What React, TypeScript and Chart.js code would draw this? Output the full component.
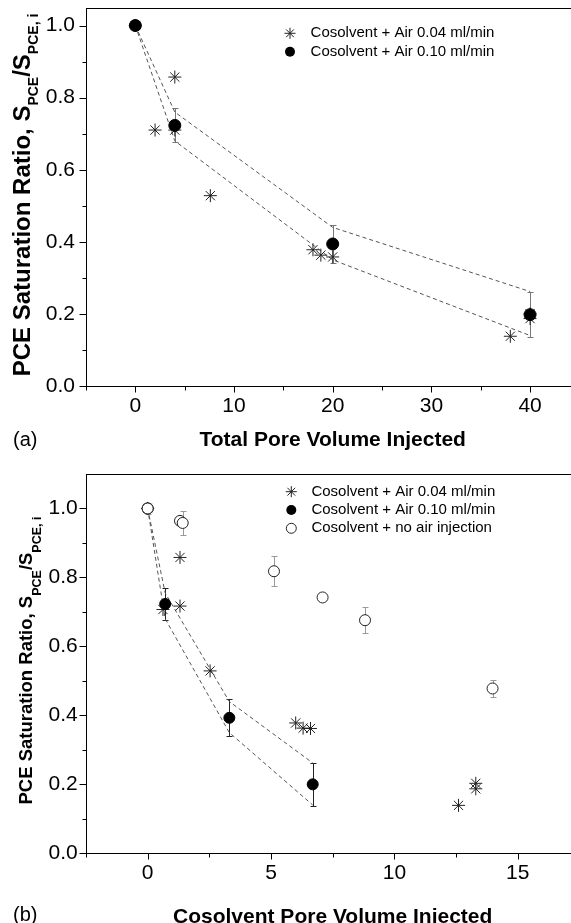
import React, { useEffect, useRef } from "react";
import { Chart, registerables } from "chart.js";
Chart.register(...registerables);

const FONT = "'Liberation Sans', Arial, Helvetica, sans-serif";

// ---------- Panel (a) data ----------
const starsAX = [0, 2, 4, 4, 7.6, 18, 18.8, 20, 38, 40, 40];
const starsAY = [1.0, 0.71, 0.857, 0.71, 0.528, 0.378, 0.363, 0.358, 0.138, 0.187, 0.2];
const filledAX = [0, 4, 20, 40];
const filledAY = [1.0, 0.723, 0.394, 0.198];
const filledAErr = [0, 0.047, 0.053, 0.063];
const upperAY = [1.0, 0.76, 0.44, 0.262];
const lowerAY = [1.0, 0.68, 0.35, 0.14];
const xTicksA = [-5, 0, 5, 10, 15, 20, 25, 30, 35, 40, 45];
const xLabelsA = [0, 10, 20, 30, 40];
const yTicksA = [0, 0.1, 0.2, 0.3, 0.4, 0.5, 0.6, 0.7, 0.8, 0.9, 1.0];
const yLabelsA = [0, 0.2, 0.4, 0.6, 0.8, 1.0];

// ---------- Panel (b) data ----------
const starsBX = [0, 0.62, 1.31, 1.31, 2.53, 6.0, 6.3, 6.6, 12.6, 13.3, 13.3];
const starsBY = [1.0, 0.707, 0.858, 0.717, 0.529, 0.378, 0.363, 0.362, 0.139, 0.187, 0.203];
const filledBX = [0, 0.71, 3.31, 6.69];
const filledBY = [1.0, 0.723, 0.393, 0.2];
const filledBErr = [0, 0.047, 0.054, 0.062];
const openBX = [0, 1.31, 1.42, 5.12, 7.09, 8.81, 13.98];
const openBY = [1.0, 0.964, 0.958, 0.818, 0.742, 0.676, 0.478];
const openBErr = [0.016, 0, 0.035, 0.043, 0, 0.038, 0.026];
const upperBY = [1.0, 0.755, 0.44, 0.262];
const lowerBY = [1.0, 0.68, 0.35, 0.14];
const xTicksB = [-2.5, 0, 2.5, 5, 7.5, 10, 12.5, 15, 17.5];
const xLabelsB = [0, 5, 10, 15];
const yTicksB = [0, 0.1, 0.2, 0.3, 0.4, 0.5, 0.6, 0.7, 0.8, 0.9, 1.0];
const yLabelsB = [0, 0.2, 0.4, 0.6, 0.8, 1.0];

const legendA = [
  { style: "star", text: "Cosolvent + Air 0.04 ml/min" },
  { style: "filled", text: "Cosolvent + Air 0.10 ml/min" },
];
const legendB = [
  { style: "star", text: "Cosolvent + Air 0.04 ml/min" },
  { style: "filled", text: "Cosolvent + Air 0.10 ml/min" },
  { style: "open", text: "Cosolvent + no air injection" },
];

const has = (arr: number[], v: number) => arr.some((a) => Math.abs(a - v) < 1e-6);
const pts = (xs: number[], ys: number[]) => xs.map((x, i) => ({ x, y: ys[i] }));

function drawStar(ctx: CanvasRenderingContext2D, x: number, y: number, r: number) {
  const d = r * Math.SQRT1_2;
  ctx.beginPath();
  ctx.moveTo(x - r, y); ctx.lineTo(x + r, y);
  ctx.moveTo(x, y - r); ctx.lineTo(x, y + r);
  ctx.moveTo(x - d, y - d); ctx.lineTo(x + d, y + d);
  ctx.moveTo(x - d, y + d); ctx.lineTo(x + d, y - d);
  ctx.stroke();
}

function makeDecor(spec: any) {
  return {
    id: "decor",
    beforeDatasetsDraw(chart: any) {
      const { ctx } = chart;
      const xs = chart.scales.x, ys = chart.scales.y;
      spec.errorBars.forEach((eb: any) => {
        ctx.save();
        ctx.strokeStyle = eb.color;
        ctx.lineWidth = 1;
        eb.x.forEach((xv: number, i: number) => {
          const e = eb.err[i];
          if (!e) return;
          const px = Math.round(xs.getPixelForValue(xv)) + 0.5;
          const y1 = Math.round(ys.getPixelForValue(eb.y[i] + e)) + 0.5;
          const y2 = Math.round(ys.getPixelForValue(eb.y[i] - e)) + 0.5;
          ctx.beginPath();
          ctx.moveTo(px, y1); ctx.lineTo(px, y2);
          ctx.moveTo(px - 3, y1); ctx.lineTo(px + 3, y1);
          ctx.moveTo(px - 3, y2); ctx.lineTo(px + 3, y2);
          ctx.stroke();
        });
        ctx.restore();
      });
    },
    afterDraw(chart: any) {
      const { ctx, chartArea: ca } = chart;
      const xs = chart.scales.x, ys = chart.scales.y;
      ctx.save();
      ctx.strokeStyle = "#000";
      ctx.lineWidth = 1;
      const L = Math.round(ca.left) + 0.5, T = Math.round(ca.top) + 0.5;
      const B = Math.round(ca.bottom) + 0.5, R = Math.round(ca.right) + 0.5;
      ctx.strokeRect(L, T, R - L, B - T);
      ctx.beginPath();
      spec.xTicks.forEach((v: number) => {
        const px = Math.round(xs.getPixelForValue(v)) + 0.5;
        ctx.moveTo(px, B);
        ctx.lineTo(px, B + (has(spec.xLabels, v) ? 6 : 4));
      });
      spec.yTicks.forEach((v: number) => {
        const py = Math.round(ys.getPixelForValue(v)) + 0.5;
        ctx.moveTo(L, py);
        ctx.lineTo(L - (has(spec.yLabels, v) ? 7 : 4), py);
      });
      ctx.stroke();

      // y-axis title with subscripts
      const yt = spec.yTitle;
      const segs = [
        { t: "PCE Saturation Ratio, S", sub: false },
        { t: "PCE", sub: true },
        { t: "/S", sub: false },
        { t: "PCE, i", sub: true },
      ];
      const fMain = `bold ${yt.main}px ${FONT}`;
      const fSub = `bold ${yt.sub}px ${FONT}`;
      let total = 0;
      const widths = segs.map((s) => {
        ctx.font = s.sub ? fSub : fMain;
        const w = ctx.measureText(s.t).width;
        total += w;
        return w;
      });
      ctx.translate(yt.x, yt.y);
      ctx.rotate(-Math.PI / 2);
      ctx.fillStyle = "#000";
      ctx.textBaseline = "alphabetic";
      ctx.textAlign = "left";
      let cx = -total / 2;
      segs.forEach((s, i) => {
        ctx.font = s.sub ? fSub : fMain;
        ctx.fillText(s.t, cx, s.sub ? yt.shift : 0);
        cx += widths[i];
      });
      ctx.setTransform(1, 0, 0, 1, 0, 0);

      // legend
      const lg = spec.legend;
      ctx.font = `${lg.size}px ${FONT}`;
      ctx.textBaseline = "middle";
      ctx.textAlign = "left";
      lg.items.forEach((it: any, i: number) => {
        const y = lg.y0 + i * lg.dy;
        ctx.lineWidth = 1;
        if (it.style === "star") {
          ctx.strokeStyle = "#222";
          drawStar(ctx, lg.mx, y, 5.5);
        } else if (it.style === "filled") {
          ctx.fillStyle = "#000";
          ctx.beginPath();
          ctx.arc(lg.mx, y, 5, 0, Math.PI * 2);
          ctx.fill();
        } else {
          ctx.strokeStyle = "#222";
          ctx.fillStyle = "#fff";
          ctx.beginPath();
          ctx.arc(lg.mx, y, 5, 0, Math.PI * 2);
          ctx.fill();
          ctx.stroke();
        }
        ctx.fillStyle = "#000";
        ctx.fillText(it.text, lg.tx, y);
      });

      // panel label
      ctx.font = `20px ${FONT}`;
      ctx.fillStyle = "#000";
      ctx.textBaseline = "middle";
      ctx.fillText(spec.label.text, spec.label.x, spec.label.y);
      ctx.restore();
    },
  };
}

function buildConfig(spec: any) {
  return {
    type: "scatter",
    data: { datasets: spec.datasets },
    options: {
      animation: false,
      responsive: false,
      devicePixelRatio: 1,
      layout: { padding: spec.padding },
      plugins: { legend: { display: false }, tooltip: { enabled: false } },
      scales: {
        x: {
          type: "linear",
          min: spec.xMin,
          max: spec.xMax,
          afterBuildTicks: (s: any) => {
            s.ticks = spec.xTicks.map((v: number) => ({ value: v }));
          },
          afterFit: (s: any) => {
            s.height = spec.xHeight;
            s.paddingLeft = 0;
            s.paddingRight = 0;
          },
          grid: { display: false, drawTicks: false },
          border: { display: false },
          ticks: {
            autoSkip: false,
            maxRotation: 0,
            padding: spec.xTickPad,
            color: "#000",
            font: { family: FONT, size: 21 },
            callback: (v: number) => (has(spec.xLabels, v) ? String(v) : ""),
          },
          title: {
            display: true,
            text: spec.xTitle,
            color: "#000",
            font: { family: FONT, size: 21, weight: "bold" },
            padding: { top: 0, bottom: spec.xTitlePad },
          },
        },
        y: {
          type: "linear",
          min: spec.yMin,
          max: spec.yMax,
          afterBuildTicks: (s: any) => {
            s.ticks = spec.yTicks.map((v: number) => ({ value: v }));
          },
          afterFit: (s: any) => {
            s.width = spec.yWidth;
            s.paddingTop = 0;
            s.paddingBottom = 0;
          },
          grid: { display: false, drawTicks: false },
          border: { display: false },
          ticks: {
            autoSkip: false,
            padding: spec.yTickPad,
            color: "#000",
            font: { family: FONT, size: 21 },
            callback: (v: number) => (has(spec.yLabels, v) ? v.toFixed(1) : ""),
          },
        },
      },
    },
    plugins: [makeDecor(spec)],
  };
}

const dashed = (xs: number[], ys: number[]) => ({
  data: pts(xs, ys),
  showLine: true,
  borderColor: "#555",
  borderWidth: 1,
  borderDash: [4, 3],
  pointRadius: 0,
  fill: false,
});
const starDs = (xs: number[], ys: number[], label: string) => ({
  label,
  data: pts(xs, ys),
  pointStyle: "star",
  pointRadius: 6.5,
  borderColor: "#222",
  backgroundColor: "#222",
  borderWidth: 1,
});
const filledDs = (xs: number[], ys: number[], label: string, r: number) => ({
  label,
  data: pts(xs, ys),
  pointStyle: "circle",
  pointRadius: r,
  borderColor: "#000",
  backgroundColor: "#000",
  borderWidth: 1,
});
const openDs = (xs: number[], ys: number[], label: string) => ({
  label,
  data: pts(xs, ys),
  pointStyle: "circle",
  pointRadius: 5.5,
  borderColor: "#222",
  backgroundColor: "#fff",
  borderWidth: 1,
});

const specA = {
  w: 600, h: 460, top: 0,
  padding: { left: 0, right: 20.6, top: 6, bottom: 0 },
  yWidth: 86, xHeight: 74,
  xMin: -5, xMax: 45, yMin: 0, yMax: 1.05,
  xTicks: xTicksA, xLabels: xLabelsA, yTicks: yTicksA, yLabels: yLabelsA,
  xTickPad: 8, yTickPad: 11,
  xTitle: "Total Pore Volume Injected", xTitlePad: 7.4,
  yTitle: { x: 29.5, y: 195, main: 24, sub: 14, shift: 8 },
  legend: { mx: 290, tx: 310.6, y0: 33.3, dy: 18.4, size: 15, items: legendA },
  label: { text: "(a)", x: 13, y: 440 },
  errorBars: [{ x: filledAX, y: filledAY, err: filledAErr, color: "#777" }],
  datasets: [
    filledDs(filledAX, filledAY, "Cosolvent + Air 0.10 ml/min", 6),
    starDs(starsAX, starsAY, "Cosolvent + Air 0.04 ml/min"),
    dashed(filledAX, upperAY),
    dashed(filledAX, lowerAY),
  ],
};

const specB = {
  w: 600, h: 480, top: 460,
  padding: { left: 0, right: 20.6, top: 14, bottom: 0 },
  yWidth: 86, xHeight: 86.7,
  xMin: -2.5, xMax: 17.5, yMin: 0, yMax: 1.1,
  xTicks: xTicksB, xLabels: xLabelsB, yTicks: yTicksB, yLabels: yLabelsB,
  xTickPad: 7, yTickPad: 8.3,
  xTitle: "Cosolvent Pore Volume Injected", xTitlePad: 10.6,
  yTitle: { x: 31.5, y: 200.5, main: 18.5, sub: 12.5, shift: 9 },
  legend: { mx: 291.3, tx: 311.4, y0: 31.7, dy: 18.3, size: 15, items: legendB },
  label: { text: "(b)", x: 13, y: 455 },
  errorBars: [
    { x: filledBX, y: filledBY, err: filledBErr, color: "#222" },
    { x: openBX, y: openBY, err: openBErr, color: "#999" },
  ],
  datasets: [
    openDs(openBX, openBY, "Cosolvent + no air injection"),
    filledDs(filledBX, filledBY, "Cosolvent + Air 0.10 ml/min", 5.5),
    starDs(starsBX, starsBY, "Cosolvent + Air 0.04 ml/min"),
    dashed(filledBX, upperBY),
    dashed(filledBX, lowerBY),
  ],
};

function Panel({ spec }: { spec: any }) {
  const ref = useRef<HTMLCanvasElement | null>(null);
  useEffect(() => {
    if (!ref.current) return;
    const chart = new Chart(ref.current, buildConfig(spec) as any);
    return () => chart.destroy();
  }, [spec]);
  return (
    <div style={{ position: "absolute", left: 0, top: spec.top, width: spec.w, height: spec.h }}>
      <canvas ref={ref} width={spec.w} height={spec.h} style={{ display: "block", width: spec.w, height: spec.h }} />
    </div>
  );
}

export default function App() {
  return (
    <div
      style={{
        position: "fixed",
        left: 0,
        top: 0,
        width: 571,
        height: 923,
        overflow: "hidden",
        background: "#fff",
      }}
    >
      <Panel spec={specA} />
      <Panel spec={specB} />
    </div>
  );
}
